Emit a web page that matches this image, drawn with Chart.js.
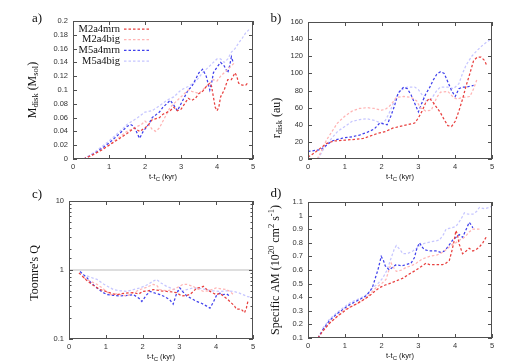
<!DOCTYPE html>
<html>
<head>
<meta charset="utf-8">
<script src="https://cdn.jsdelivr.net/npm/chart.js"></script>
<style>
body { margin: 0; background: #fff; }
#wrap { position: relative; width: 527px; height: 362px; }
canvas { position: absolute; }
</style>
</head>
<body>
<div id="wrap">
<canvas id="pa" width="263" height="181" style="left:0px;top:0px"></canvas>
<canvas id="pb" width="264" height="181" style="left:263px;top:0px"></canvas>
<canvas id="pc" width="263" height="181" style="left:0px;top:181px"></canvas>
<canvas id="pd" width="264" height="181" style="left:263px;top:181px"></canvas>
</div>
<script>
const names = ['M2a4mrn', 'M2a4big', 'M5a4mrn', 'M5a4big'];
const colors = ['#e8403f', '#ffb4b4', '#4040ec', '#c6c6ff'];

// a) disk mass
const mdiskM2mrn = [[0.3,0],[0.5,0.005],[0.8,0.013],[1.0,0.02],[1.3,0.03],[1.5,0.037],[1.7,0.045],[1.85,0.04],[2.0,0.045],[2.1,0.05],[2.2,0.057],[2.4,0.06],[2.5,0.065],[2.7,0.07],[2.8,0.075],[2.9,0.07],[3.0,0.072],[3.1,0.08],[3.2,0.088],[3.3,0.085],[3.4,0.088],[3.5,0.095],[3.6,0.098],[3.7,0.105],[3.8,0.11],[3.85,0.105],[3.9,0.09],[3.95,0.075],[4.0,0.07],[4.05,0.075],[4.1,0.09],[4.2,0.1],[4.3,0.115],[4.4,0.115],[4.5,0.125],[4.55,0.12],[4.6,0.11],[4.7,0.107],[4.8,0.107],[4.85,0.11]];
const mdiskM2big = [[0.3,0],[0.6,0.007],[1.0,0.02],[1.3,0.032],[1.5,0.04],[1.7,0.045],[1.9,0.05],[2.0,0.055],[2.1,0.05],[2.2,0.043],[2.3,0.04],[2.4,0.045],[2.5,0.055],[2.6,0.065],[2.7,0.075],[2.8,0.08],[2.9,0.085],[3.0,0.09],[3.1,0.095],[3.2,0.1],[3.3,0.098],[3.5,0.095],[3.6,0.1],[3.7,0.105],[3.8,0.11],[3.9,0.115],[4.0,0.113],[4.1,0.12],[4.2,0.125],[4.3,0.13],[4.4,0.135],[4.5,0.14]];
const mdiskM5mrn = [[0.3,0],[0.6,0.008],[1.0,0.023],[1.3,0.037],[1.5,0.047],[1.6,0.05],[1.7,0.047],[1.8,0.035],[1.85,0.03],[1.95,0.04],[2.1,0.05],[2.2,0.06],[2.4,0.068],[2.5,0.075],[2.6,0.08],[2.7,0.085],[2.8,0.078],[2.9,0.07],[3.0,0.08],[3.1,0.09],[3.2,0.1],[3.3,0.105],[3.4,0.115],[3.5,0.125],[3.6,0.13],[3.7,0.12],[3.75,0.11],[3.8,0.1],[3.85,0.11],[3.9,0.125],[4.0,0.133],[4.1,0.14],[4.2,0.135],[4.3,0.125],[4.35,0.135],[4.4,0.148],[4.45,0.14]];
const mdiskM5big = [[0.3,0],[0.6,0.01],[1.0,0.026],[1.3,0.04],[1.5,0.05],[1.8,0.06],[2.0,0.068],[2.2,0.07],[2.4,0.077],[2.6,0.085],[2.8,0.09],[3.0,0.1],[3.2,0.105],[3.4,0.112],[3.6,0.125],[3.8,0.135],[3.9,0.14],[4.0,0.145],[4.1,0.145],[4.2,0.14],[4.3,0.145],[4.4,0.155],[4.5,0.16],[4.6,0.168],[4.7,0.175],[4.8,0.183],[4.9,0.188]];

// b) disk radius
const rdiskM2mrn = [[0,2],[0.2,8],[0.5,18],[0.7,21],[1.0,22],[1.3,23],[1.5,24],[1.7,27],[1.9,30],[2.1,32],[2.3,36],[2.5,38],[2.7,40],[2.9,42],[3.0,48],[3.1,56],[3.2,66],[3.3,71],[3.4,66],[3.5,60],[3.6,54],[3.7,46],[3.8,39],[3.9,38],[4.0,44],[4.1,56],[4.2,70],[4.3,86],[4.4,100],[4.5,115],[4.6,119],[4.7,119],[4.8,115],[4.85,110]];
const rdiskM2big = [[0.25,0],[0.4,12],[0.5,22],[0.65,32],[0.8,42],[1.0,50],[1.2,56],[1.4,59],[1.6,60],[1.8,59],[2.0,57],[2.1,58],[2.2,61],[2.3,66],[2.4,72],[2.6,73],[2.8,72],[2.95,68],[3.05,60],[3.2,56],[3.35,57],[3.5,72],[3.6,78],[3.8,79],[3.95,72],[4.05,70],[4.2,72],[4.4,73],[4.5,82],[4.6,94]];
const rdiskM5mrn = [[0,9],[0.2,10],[0.35,11],[0.5,16],[0.65,21],[0.8,23],[1.0,25],[1.2,26],[1.4,28],[1.6,31],[1.8,35],[1.95,42],[2.05,41],[2.15,40],[2.25,50],[2.35,62],[2.45,77],[2.6,84],[2.7,82],[2.8,75],[2.9,65],[3.0,55],[3.1,66],[3.2,76],[3.3,83],[3.4,92],[3.5,99],[3.6,102],[3.7,100],[3.8,90],[3.9,80],[4.0,73],[4.1,82],[4.2,84],[4.3,84],[4.4,85],[4.5,86]];
const rdiskM5big = [[0.27,0],[0.4,10],[0.6,22],[0.8,32],[1.0,38],[1.2,44],[1.4,46],[1.6,47],[1.8,45],[2.0,42],[2.1,45],[2.2,53],[2.3,63],[2.4,72],[2.5,80],[2.7,84],[2.9,84],[3.0,81],[3.1,75],[3.2,68],[3.35,70],[3.5,80],[3.6,84],[3.8,84],[3.95,82],[4.1,88],[4.2,100],[4.3,110],[4.45,120],[4.6,127],[4.75,133],[4.9,138],[5.0,140]];

// c) Toomre Q
const qM2mrn = [[0.27,0.91],[0.4,0.78],[0.5,0.69],[0.7,0.58],[0.85,0.52],[1.0,0.49],[1.2,0.45],[1.3,0.44],[1.5,0.46],[1.75,0.47],[1.9,0.45],[2.0,0.49],[2.15,0.5],[2.3,0.52],[2.5,0.5],[2.65,0.49],[2.8,0.48],[2.92,0.47],[3.06,0.42],[3.2,0.43],[3.28,0.44],[3.4,0.5],[3.47,0.55],[3.6,0.56],[3.65,0.58],[3.75,0.52],[3.83,0.49],[4.0,0.44],[4.1,0.46],[4.19,0.42],[4.3,0.38],[4.37,0.35],[4.5,0.3],[4.55,0.27],[4.68,0.27],[4.77,0.24],[4.82,0.28],[4.86,0.35]];
const qM2big = [[0.4,0.77],[0.55,0.7],[0.76,0.62],[0.9,0.55],[1.12,0.44],[1.3,0.45],[1.57,0.42],[1.75,0.47],[1.93,0.52],[2.1,0.56],[2.29,0.62],[2.38,0.6],[2.47,0.52],[2.65,0.5],[2.83,0.52],[2.95,0.56],[3.1,0.62],[3.2,0.62],[3.37,0.58],[3.5,0.53],[3.65,0.49],[3.8,0.5],[4.0,0.55],[4.15,0.53],[4.28,0.52],[4.4,0.48],[4.46,0.44]];
const qM5mrn = [[0.3,0.95],[0.4,0.85],[0.49,0.77],[0.6,0.65],[0.76,0.55],[0.9,0.48],[1.03,0.44],[1.2,0.43],[1.39,0.42],[1.6,0.43],[1.75,0.44],[1.9,0.39],[1.98,0.35],[2.1,0.43],[2.2,0.49],[2.35,0.46],[2.47,0.44],[2.6,0.41],[2.74,0.37],[2.83,0.32],[2.92,0.45],[3.01,0.55],[3.1,0.48],[3.2,0.42],[3.35,0.38],[3.47,0.35],[3.6,0.33],[3.74,0.3],[3.83,0.28],[3.92,0.34],[4.0,0.42],[4.1,0.46],[4.19,0.44],[4.28,0.45],[4.37,0.42]];
const qM5big = [[0.49,0.82],[0.6,0.78],[0.76,0.73],[0.95,0.62],[1.21,0.52],[1.4,0.5],[1.57,0.49],[1.75,0.52],[1.93,0.55],[2.1,0.6],[2.29,0.69],[2.38,0.73],[2.5,0.65],[2.65,0.58],[2.83,0.53],[3.01,0.49],[3.2,0.52],[3.37,0.55],[3.55,0.54],[3.74,0.52],[3.9,0.5],[4.1,0.49],[4.3,0.5],[4.46,0.49],[4.6,0.47],[4.73,0.44],[4.86,0.41],[5.0,0.4]];
const qLine = [[0,1],[5,1]];

// d) specific angular momentum
const amM2mrn = [[0.27,0.1],[0.4,0.15],[0.59,0.21],[0.8,0.26],[0.95,0.29],[1.1,0.32],[1.31,0.35],[1.5,0.38],[1.67,0.41],[1.8,0.44],[1.94,0.47],[2.1,0.49],[2.21,0.5],[2.4,0.52],[2.58,0.54],[2.75,0.57],[2.94,0.6],[3.1,0.63],[3.21,0.65],[3.3,0.64],[3.39,0.64],[3.5,0.64],[3.66,0.64],[3.75,0.65],[3.84,0.67],[3.9,0.73],[3.96,0.8],[4.02,0.89],[4.06,0.86],[4.11,0.79],[4.2,0.72],[4.3,0.74],[4.38,0.76],[4.48,0.74],[4.57,0.75],[4.66,0.77],[4.75,0.8],[4.86,0.85]];
const amM2big = [[0.4,0.15],[0.59,0.21],[0.8,0.26],[0.95,0.3],[1.15,0.33],[1.4,0.36],[1.6,0.4],[1.85,0.47],[2.0,0.5],[2.12,0.53],[2.2,0.6],[2.26,0.65],[2.32,0.62],[2.4,0.59],[2.55,0.6],[2.67,0.62],[2.8,0.63],[2.94,0.65],[3.1,0.68],[3.3,0.7],[3.5,0.71],[3.66,0.73],[3.8,0.76],[3.93,0.79],[4.02,0.8],[4.11,0.82],[4.2,0.83],[4.29,0.85],[4.38,0.88],[4.48,0.9],[4.57,0.9],[4.66,0.9]];
const amM5mrn = [[0.27,0.1],[0.4,0.16],[0.59,0.23],[0.8,0.28],[0.95,0.31],[1.1,0.34],[1.31,0.37],[1.45,0.39],[1.58,0.41],[1.7,0.45],[1.76,0.48],[1.84,0.55],[1.9,0.6],[1.99,0.7],[2.05,0.67],[2.1,0.63],[2.21,0.6],[2.3,0.62],[2.4,0.64],[2.55,0.63],[2.67,0.64],[2.8,0.65],[2.89,0.69],[2.96,0.76],[3.03,0.8],[3.1,0.77],[3.16,0.75],[3.3,0.74],[3.48,0.74],[3.6,0.73],[3.71,0.74],[3.8,0.77],[3.93,0.82],[4.02,0.84],[4.11,0.86],[4.2,0.84],[4.3,0.9],[4.38,0.95],[4.44,0.93],[4.48,0.91]];
const amM5big = [[0.4,0.17],[0.59,0.24],[0.8,0.29],[0.95,0.32],[1.15,0.36],[1.4,0.39],[1.6,0.42],[1.76,0.47],[1.9,0.5],[2.03,0.54],[2.15,0.6],[2.26,0.69],[2.34,0.75],[2.4,0.78],[2.5,0.75],[2.58,0.72],[2.7,0.72],[2.85,0.74],[3.0,0.77],[3.1,0.79],[3.21,0.8],[3.4,0.81],[3.57,0.82],[3.68,0.86],[3.75,0.9],[3.9,0.91],[4.02,0.92],[4.15,0.97],[4.25,1.02],[4.35,1.01],[4.48,1.01],[4.58,1.03],[4.66,1.06],[4.8,1.05],[4.93,1.06],[5.0,1.07]];

const xTicks = [0, 1, 2, 3, 4, 5];

const SERIF = '"Liberation Serif", "DejaVu Serif", serif';
const SANS = '"Liberation Sans", Arial, sans-serif';

function isDecade(v) {
    let l = Math.log10(v);
    return Math.abs(l - Math.round(l)) < 1e-6;
}

function drawRich(ctx, parts, cx, cy, rotate, family) {
    ctx.save();
    ctx.translate(cx, cy);
    if (rotate) ctx.rotate(-Math.PI / 2);
    let total = 0;
    for (let p of parts) {
        ctx.font = p[1] + 'px ' + family;
        total += ctx.measureText(p[0]).width;
    }
    let x = -total / 2;
    ctx.textAlign = 'left';
    ctx.textBaseline = 'middle';
    ctx.fillStyle = '#111';
    for (let p of parts) {
        ctx.font = p[1] + 'px ' + family;
        ctx.fillText(p[0], x, p[2]);
        x += ctx.measureText(p[0]).width;
    }
    ctx.restore();
}

const decoPlugin = {
    id: 'deco',
    afterDatasetsDraw(chart, args, o) {
        let ctx = chart.ctx, a = chart.chartArea;
        let xs = chart.scales.x, ys = chart.scales.y;
        ctx.save();
        ctx.strokeStyle = '#505050';
        ctx.lineWidth = 1;
        ctx.setLineDash([]);
        ctx.strokeRect(a.left + 0.5, a.top + 0.5, a.right - a.left - 1, a.bottom - a.top - 1);
        ctx.beginPath();
        for (let t of xs.ticks) {
            let p = Math.round(xs.getPixelForValue(t.value)) + 0.5;
            ctx.moveTo(p, a.bottom); ctx.lineTo(p, a.bottom - 4);
            ctx.moveTo(p, a.top); ctx.lineTo(p, a.top + 4);
        }
        for (let t of ys.ticks) {
            let len = (o.log && !isDecade(t.value)) ? 2.5 : 4;
            let p = Math.round(ys.getPixelForValue(t.value)) + 0.5;
            ctx.moveTo(a.left, p); ctx.lineTo(a.left + len, p);
            ctx.moveTo(a.right, p); ctx.lineTo(a.right - len, p);
        }
        ctx.stroke();

        // panel letter
        ctx.fillStyle = '#111';
        ctx.font = '13px ' + SERIF;
        ctx.textAlign = 'center';
        ctx.textBaseline = 'middle';
        ctx.fillText(o.letter, o.letterX, o.letterY);

        drawRich(ctx, o.ytitle, o.ytitleX, o.ytitleY, true, SERIF);
        drawRich(ctx, [['t-t', 7.5, 0], ['C', 6, 2], [' (kyr)', 7.5, 0]], (a.left + a.right) / 2, o.xtitleY, false, SANS);

        if (o.legend) {
            chart.data.datasets.forEach(function(ds, i) {
                let y = 29 + i * 10.7;
                ctx.font = '10.5px ' + SERIF;
                ctx.textAlign = 'right';
                ctx.fillStyle = '#111';
                ctx.fillText(ds.label, 120, y);
                ctx.strokeStyle = ds.borderColor;
                ctx.lineWidth = ds.borderWidth;
                ctx.setLineDash(ds.borderDash);
                ctx.beginPath();
                ctx.moveTo(124, y); ctx.lineTo(151, y);
                ctx.stroke();
            });
        }
        ctx.restore();
    }
};

function series(list) {
    return list.map(function(pts, i) {
        return {
            label: names[i],
            data: pts.map((p) => ({x: p[0], y: p[1]})),
            borderColor: colors[i],
            borderWidth: 1.25,
            borderDash: [2.5, 2],
            pointRadius: 0,
            tension: 0,
            fill: false
        };
    });
}

function fmt(v) {
    return String(parseFloat(Number(v).toFixed(3)));
}

function makePanel(id, datasets, yScale, deco, pad, yWidth, xHeight) {
    let tickFont = {family: SANS, size: 7.5};
    yScale.ticks = Object.assign({font: tickFont, color: '#333', padding: 5, autoSkip: false}, yScale.ticks);
    yScale.grid = {display: false, drawTicks: false};
    yScale.border = {display: false};
    yScale.afterFit = (s) => { s.width = yWidth; };
    return new Chart(document.getElementById(id), {
        type: 'line',
        data: {datasets: datasets},
        options: {
            responsive: false,
            animation: false,
            layout: {padding: {top: pad.top, right: pad.right, left: 0, bottom: 0}},
            plugins: {legend: {display: false}, tooltip: {enabled: false}, deco: deco},
            scales: {
                x: {
                    type: 'linear', min: 0, max: 5,
                    afterBuildTicks: (s) => { s.ticks = xTicks.map((v) => ({value: v})); },
                    ticks: {font: tickFont, color: '#333', padding: 3, callback: (v) => fmt(v)},
                    grid: {display: false, drawTicks: false},
                    border: {display: false},
                    afterFit: (s) => { s.height = xHeight; }
                },
                y: yScale
            }
        },
        plugins: [decoPlugin]
    });
}

makePanel('pa', series([mdiskM2mrn, mdiskM2big, mdiskM5mrn, mdiskM5big]),
    {type: 'linear', min: 0, max: 0.2, ticks: {stepSize: 0.02, callback: (v) => fmt(v)}},
    {letter: 'a)', letterX: 37, letterY: 19, legend: true, xtitleY: 177, ytitleX: 33, ytitleY: 90,
     ytitle: [['M', 12, 0], ['disk', 8.5, 3], [' (M', 12, 0], ['sol', 8.5, 3], [')', 12, 0]]},
    {top: 21, right: 10}, 73, 22);

makePanel('pb', series([rdiskM2mrn, rdiskM2big, rdiskM5mrn, rdiskM5big]),
    {type: 'linear', min: 0, max: 160, ticks: {stepSize: 20, callback: (v) => fmt(v)}},
    {letter: 'b)', letterX: 13, letterY: 19, xtitleY: 177, ytitleX: 14, ytitleY: 118,
     ytitle: [['r', 12, 0], ['disk', 8.5, 3], [' (au)', 12, 0]]},
    {top: 22, right: 35}, 45, 22);

let qSets = series([qM2mrn, qM2big, qM5mrn, qM5big]);
qSets.push({label: '', data: qLine.map((p) => ({x: p[0], y: p[1]})), borderColor: '#bbbbbb',
    borderWidth: 1.2, borderDash: [], pointRadius: 0, fill: false});
makePanel('pc', qSets,
    {type: 'logarithmic', min: 0.1, max: 10, ticks: {callback: (v) => isDecade(v) ? fmt(v) : ''}},
    {letter: 'c)', letterX: 37, letterY: 14, log: true, xtitleY: 176, ytitleX: 35, ytitleY: 92,
     ytitle: [["Toomre's Q", 12, 0]]},
    {top: 20, right: 10}, 69, 23);

makePanel('pd', series([amM2mrn, amM2big, amM5mrn, amM5big]),
    {type: 'linear', min: 0.1, max: 1.1, ticks: {stepSize: 0.1, callback: (v) => fmt(v)}},
    {letter: 'd)', letterX: 13, letterY: 13, xtitleY: 175, ytitleX: 13, ytitleY: 89,
     ytitle: [['Specific AM (10', 12, 0], ['20', 8.5, -4], [' cm', 12, 0], ['2', 8.5, -4], [' s', 12, 0], ['-1', 8.5, -4], [')', 12, 0]]},
    {top: 21, right: 35}, 45, 24);
</script>
</body>
</html>
